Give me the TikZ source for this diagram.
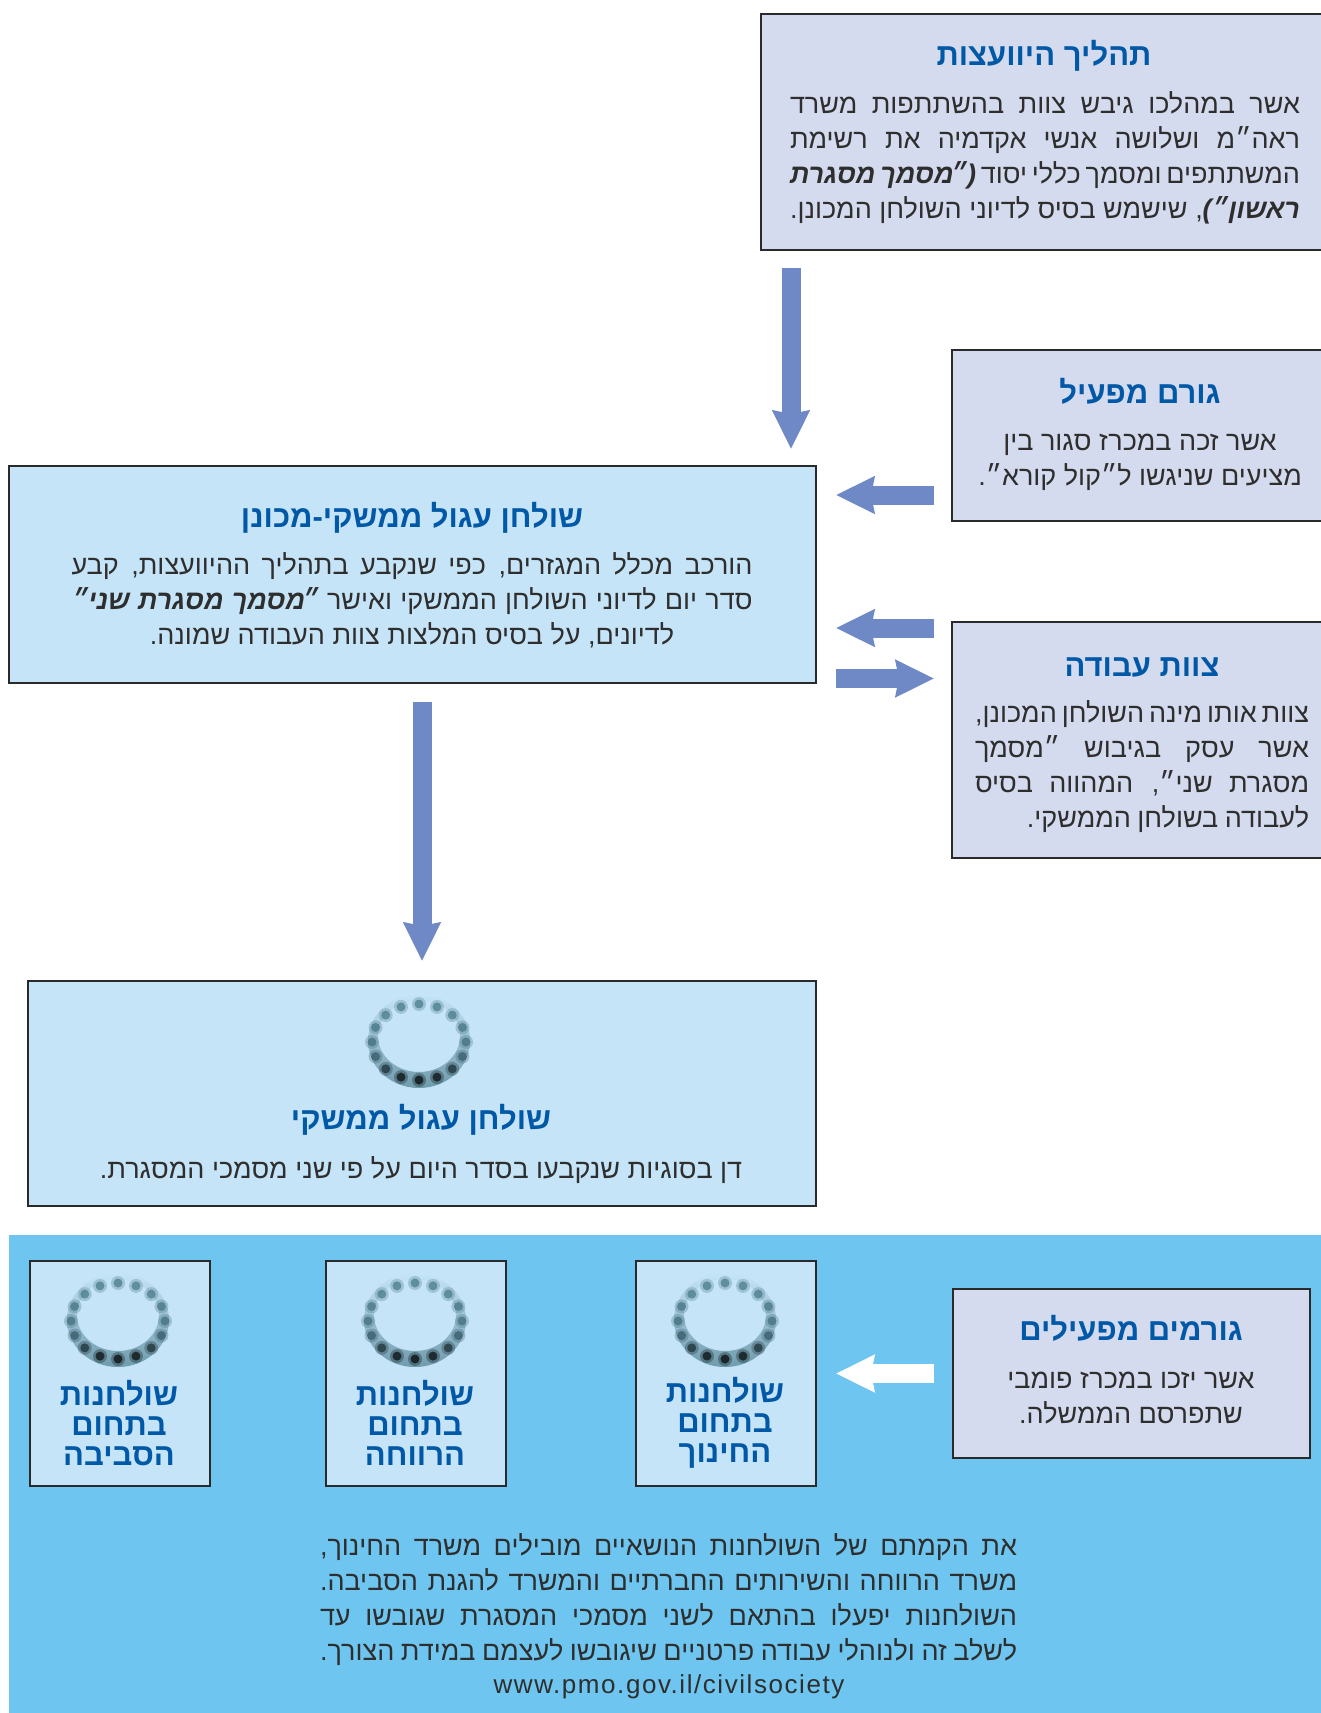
\documentclass[tikz,border=0pt]{standalone}
\usepackage{fontspec}
\usetikzlibrary{arrows.meta}
\TeXXeTstate=1
\setmainfont{Liberation Sans}
\newfontfamily\heb[Script=Hebrew]{Liberation Sans}
\definecolor{lav}{HTML}{D4DBEE}
\definecolor{sky}{HTML}{C5E4F7}
\definecolor{band}{HTML}{6EC6F0}
\definecolor{arrowblue}{HTML}{6F89C6}
\definecolor{ttl}{HTML}{0058A6}
\definecolor{ink}{HTML}{2E2E2E}
\definecolor{edge}{HTML}{2A2A2A}
\definecolor{tablecol}{HTML}{4A7C8D}
\newcommand{\jl}[2]{\hbox to \dimexpr #1pt/2\relax{\spaceskip=.24em plus .1em minus .1em #2}}
\newcommand{\bb}[1]{{\bfseries\itshape #1}}
\newcommand{\gq}{״\kern-.12em}
\tikzset{
  x=0.5pt,y=-0.5pt,
  lavbox/.style={draw=edge,line width=1pt,fill=lav},
  skybox/.style={draw=edge,line width=1pt,fill=sky},
  body/.style={text=ink,align=center,inner sep=0pt,font=\heb\fontsize{13.5}{17.5}\selectfont},
  ttlbig/.style={text=ttl,align=center,inner sep=0pt,font=\heb\bfseries\fontsize{15.5}{18}\selectfont},
  ttlsmall/.style={text=ttl,align=center,inner sep=0pt,font=\heb\bfseries\fontsize{15.5}{15}\selectfont},
  blockarrow/.style={line width=9.5pt,draw=#1,{-{Stealth[length=19pt,width=18pt,inset=1.5pt,fill=#1]}}},
  blockarrow/.default=arrowblue,
  roundtable/.pic={
    \shade[even odd rule,top color=sky,middle color=sky,bottom color=tablecol!70!sky]
      (0,-1) ellipse [x radius=51,y radius=47] (0,-6) ellipse [x radius=41,y radius=36];
    \foreach \a/\dk in {-90/0,-67.5/0,-112.5/0,-45/0,-135/0,-22.5/5,-157.5/5,0/10,-180/10,22.5/25,157.5/25,45/60,135/60,67.5/85,112.5/85,90/90}{
      \fill[tablecol!\the\numexpr100-\dk\relax!black,opacity=.3] (\a:47 and 38) circle (7);
      \fill[tablecol!\the\numexpr100-\dk\relax!black,opacity=.75] (\a:47 and 38) circle (4.5);
    }
  }
}
\begin{document}
\begin{tikzpicture}
\clip (0,0) rectangle (1321,1713);
\fill[white] (0,0) rectangle (1321,1713);
% boxes
\path[lavbox] (761,14) rectangle (1335,250);
\path[lavbox] (952,350) rectangle (1335,521);
\path[lavbox] (952,622) rectangle (1335,858);
\path[skybox] (9,466) rectangle (816,683);
\path[skybox] (28,981) rectangle (816,1206);
\fill[band] (9,1235) rectangle (1335,1720);
\path[skybox] (636,1261) rectangle (816,1486);
\path[skybox] (326,1261) rectangle (506,1486);
\path[skybox] (30,1261) rectangle (210,1486);
\path[lavbox] (953,1289) rectangle (1310,1458);
% arrows
\coordinate (a1s) at (791,268); \coordinate (a1e) at (791,449);
\coordinate (a2s) at (934,495); \coordinate (a2e) at (836,495);
\coordinate (a3s) at (934,628); \coordinate (a3e) at (836,628);
\coordinate (a4s) at (836,678.5); \coordinate (a4e) at (934,678.5);
\coordinate (a5s) at (422,702); \coordinate (a5e) at (422,961);
\coordinate (a6s) at (934,1373.5); \coordinate (a6e) at (836,1373.5);
\draw[blockarrow] (a1s) -- (a1e);
\draw[blockarrow] (a2s) -- (a2e);
\draw[blockarrow] (a3s) -- (a3e);
\draw[blockarrow] (a4s) -- (a4e);
\draw[blockarrow] (a5s) -- (a5e);
\draw[blockarrow=white] (a6s) -- (a6e);
% icons
\pic at (419,1042) {roundtable};
\pic at (725,1321) {roundtable};
\pic at (415,1321) {roundtable};
\pic at (118,1321) {roundtable};
% texts
\node[ttlbig] (t1) at (1044,56) {\beginR תהליך היוועצות\endR};
\node[body] (b1) at (1045,157.5) {\jl{510}{\beginR אשר במהלכו גיבש צוות בהשתתפות משרד\endR}\\
\jl{510}{\beginR ראה״מ ושלושה אנשי אקדמיה את רשימת\endR}\\
\jl{510}{\beginR המשתתפים ומסמך כללי יסוד \bb{(\gq מסמך מסגרת}\endR}\\
\jl{510}{\beginR \bb{ראשון״)}, שישמש בסיס לדיוני השולחן המכונן.\endR}};
\node[ttlbig] (t2) at (1140,391) {\beginR גורם מפעיל\endR};
\node[body] (b2) at (1140,462.5) {\beginR אשר זכה במכרז סגור בין\endR\\\beginR מציעים שניגשו ל״קול קורא״.\endR};
\node[ttlbig] (t3) at (1142,667) {\beginR צוות עבודה\endR};
\node[body] (b3) at (1142,767) {\jl{334}{\beginR צוות אותו מינה השולחן המכונן,\endR}\\
\jl{334}{\beginR אשר עסק בגיבוש ״מסמך\endR}\\
\jl{334}{\beginR מסגרת שני״, המהווה בסיס\endR}\\
\jl{334}{\beginR לעבודה בשולחן הממשקי.\hfill\endR}};
\node[ttlbig] (t4) at (412,518) {\beginR שולחן עגול ממשקי-מכונן\endR};
\node[body] (b4) at (412,600.5) {\jl{681}{\beginR הורכב מכלל המגזרים, כפי שנקבע בתהליך ההיוועצות, קבע\endR}\\
\jl{681}{\beginR סדר יום לדיוני השולחן הממשקי ואישר \bb{\gq מסמך מסגרת שני״}\endR}\\
\beginR לדיונים, על בסיס המלצות צוות העבודה שמונה.\endR};
\node[ttlbig] (t5) at (421,1120) {\beginR שולחן עגול ממשקי\endR};
\node[body] (b5) at (421,1170) {\beginR דן בסוגיות שנקבעו בסדר היום על פי שני מסמכי המסגרת.\endR};
\node[ttlsmall] (s1) at (725,1423) {\beginR שולחנות\endR\\\beginR בתחום\endR\\\beginR החינוך\endR};
\node[ttlsmall] (s2) at (415,1423) {\beginR שולחנות\endR\\\beginR בתחום\endR\\\beginR הרווחה\endR};
\node[ttlsmall] (s3) at (119,1423) {\beginR שולחנות\endR\\\beginR בתחום\endR\\\beginR הסביבה\endR};
\node[ttlbig] (t6) at (1131,1328) {\beginR גורמים מפעילים\endR};
\node[body] (b6) at (1131,1398) {\beginR אשר יזכו במכרז פומבי\endR\\\beginR שתפרסם הממשלה.\endR};
\node[body] (b7) at (668.5,1600) {\jl{697}{\beginR את הקמתם של השולחנות הנושאיים מובילים משרד החינוך,\endR}\\
\jl{697}{\beginR משרד הרווחה והשירותים החברתיים והמשרד להגנת הסביבה.\endR}\\
\jl{697}{\beginR השולחנות יפעלו בהתאם לשני מסמכי המסגרת שגובשו עד\endR}\\
\jl{697}{\beginR לשלב זה ולנוהלי עבודה פרטניים שיגובשו לעצמם במידת הצורך.\endR}};
\node[text=ink,inner sep=0pt,font=\fontsize{13}{16}\selectfont\addfontfeature{LetterSpace=6}] (u) at (669,1687) {www.pmo.gov.il/civilsociety};
\end{tikzpicture}
\end{document}
